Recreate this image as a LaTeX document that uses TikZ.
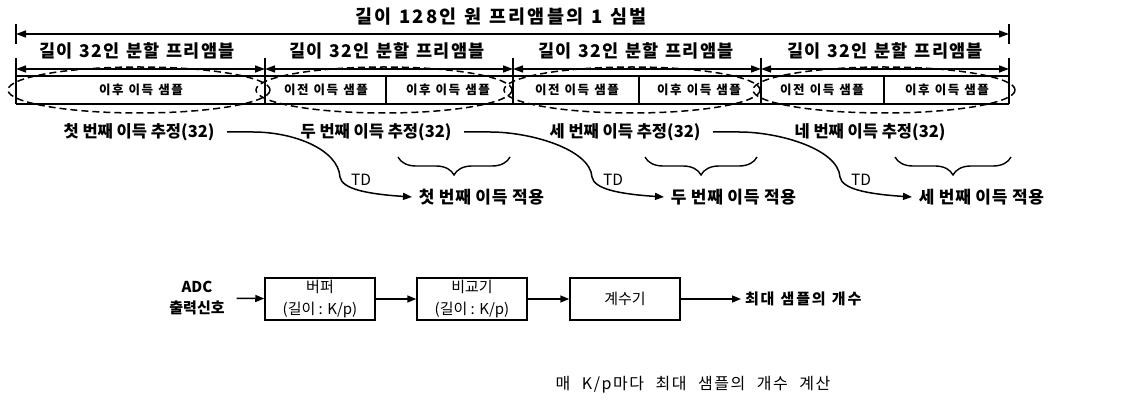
\documentclass[tikz,border=0pt]{standalone}
\usepackage{fontspec}
\newfontfamily\kr{Noto Sans CJK KR}
\newfontfamily\krttl{Noto Sans CJK KR}[LetterSpace=12,WordSpace=1.9]
\newfontfamily\krseg{Noto Sans CJK KR}[LetterSpace=6,WordSpace=1.4]
\newfontfamily\krsml{Noto Sans CJK KR}[LetterSpace=12]
\newfontfamily\krapp{Noto Sans CJK KR}[LetterSpace=4]
\newfontfamily\krout{Noto Sans CJK KR}[LetterSpace=12,WordSpace=1.2]
\newfontfamily\krnote{Noto Sans CJK KR}[LetterSpace=10,WordSpace=2.2]
\usetikzlibrary{arrows.meta,decorations.pathreplacing,calc}
\begin{document}
\begin{tikzpicture}[x=1pt,y=-1pt,
  line width=1.5pt,
  every node/.style={font=\kr\fontsize{17}{20}\selectfont, inner sep=0pt},
  ttl/.style={font=\krttl\bfseries\fontsize{18.5}{20}\selectfont},
  seg/.style={font=\krseg\bfseries\fontsize{17.5}{20}\selectfont},
  small/.style={font=\krsml\bfseries\fontsize{12.5}{14}\selectfont},
  est/.style={font=\kr\bfseries\fontsize{16.5}{20}\selectfont},
  app/.style={font=\krapp\bfseries\fontsize{17}{20}\selectfont},
  tri/.style={-{Triangle[length=9pt,width=7pt]}},
  dbl/.style={{Triangle[length=10pt,width=7pt]}-{Triangle[length=10pt,width=7pt]}},
  dsh/.style={dash pattern=on 7pt off 4pt, line width=1.5pt},
  blk/.style={draw, minimum width=110pt, minimum height=42pt, align=center, font=\kr\fontsize{15}{22}\selectfont},
  brc/.style={decorate, decoration={brace, amplitude=18pt, mirror}, line width=1.4pt}
]
\useasboundingbox (0,0) rectangle (1131,403);
% boundaries
\foreach \n/\x in {0/16,1/265,2/513,3/761,4/1009}{
  \coordinate (bt\n) at (\x,58);
  \coordinate (bb\n) at (\x,104);
  \coordinate (ba\n) at (\x,69);
}
\node[ttl] (title) at (501,17) {길이 128인 원 프리앰블의 1 심벌};
\coordinate (tl) at (16,34); \coordinate (tr) at (1009,34);
\draw (16,24) -- (16,44);
\draw (1009,24) -- (1009,44);
\draw[dbl] (tl) -- (tr);
\foreach \c in {137,387,636,885}{
  \node[seg] at (\c,51) {길이 32인 분할 프리앰블};
}
\foreach \n in {0,...,4}{ \draw (bt\n) -- (bb\n); }
\foreach \a/\b in {0/1,1/2,2/3,3/4}{ \draw[dbl] (ba\a) -- (ba\b); }
% box
\draw (16,76) -- (1009,76);
\draw (16,104) -- (1009,104);
\foreach \x in {386,639,884}{ \draw (\x,76) -- (\x,104); }
\node[small] at (141,90) {이후 이득 샘플};
\node[small] at (326,90) {이전 이득 샘플};
\node[small] at (448,90) {이후 이득 샘플};
\node[small] at (577,90) {이전 이득 샘플};
\node[small] at (699,90) {이후 이득 샘플};
\node[small] at (822,90) {이전 이득 샘플};
\node[small] at (947,90) {이후 이득 샘플};
% dashed ellipses
\draw[dsh] (139,90) ellipse (131 and 23);
\draw[dsh] (384,90) ellipse (128 and 23);
\draw[dsh] (632,90) ellipse (128 and 23);
\draw[dsh] (884,90) ellipse (131 and 23);
% estimates
\node[est] (est1) at (139,132) {첫 번째 이득 추정(32)};
\node[est] (est2) at (376,132) {두 번째 이득 추정(32)};
\node[est] (est3) at (625,132) {세 번째 이득 추정(32)};
\node[est] (est4) at (870,132) {네 번째 이득 추정(32)};
% applies
\node[app, anchor=west] (app1) at (418,197) {첫 번째 이득 적용};
\node[app, anchor=west] (app2) at (670,197) {두 번째 이득 적용};
\node[app, anchor=west] (app3) at (918,197) {세 번째 이득 적용};
% curves
\foreach \i in {1,2,3}{
  \coordinate (s\i) at ($(est\i.east)+(12,0)$);
  \coordinate (p\i) at ($(s\i)+(26,0)$);
  \coordinate (e\i) at ($(app\i.west)+(-6,0)$);
  \coordinate (m\i) at ($(e\i)+(-72,-20)$);
  \draw[tri] (s\i) -- (p\i) .. controls ($(p\i)+(40,0)$) and ($(m\i)+(-2,-28)$) .. (m\i)
     .. controls ($(m\i)+(2,12)$) and ($(e\i)+(-45,-3)$) .. (e\i);
  \node[font=\kr\fontsize{15.5}{18}\selectfont] (td\i) at ($(m\i)+(21,3)$) {TD};
}
% braces
\draw[brc] (398,157) -- (510,157);
\draw[brc] (645,157) -- (757,157);
\draw[brc] (895,157) -- (1011,157);
% bottom block diagram
\node[align=center, font=\kr\bfseries\fontsize{15}{21}\selectfont, outer sep=12pt] (adc) at (197,298) {ADC\\출력신호};
\node[blk] (buf) at (320,299) {버퍼\\(길이 : K/p)};
\node[blk] (cmp) at (472,299) {비교기\\(길이 : K/p)};
\node[blk] (cnt) at (625,299) {계수기};
\node[anchor=west, font=\krout\bfseries\fontsize{15}{20}\selectfont, outer sep=4pt] (out) at (741,299) {최대 샘플의 개수};
\draw[tri] (adc) -- (buf);
\draw[tri] (buf) -- (cmp);
\draw[tri] (cmp) -- (cnt);
\draw[tri] (cnt) -- (out);
\node[font=\krnote\fontsize{16}{20}\selectfont] (note) at (693,385) {매 K/p마다 최대 샘플의 개수 계산};
\end{tikzpicture}
\end{document}
